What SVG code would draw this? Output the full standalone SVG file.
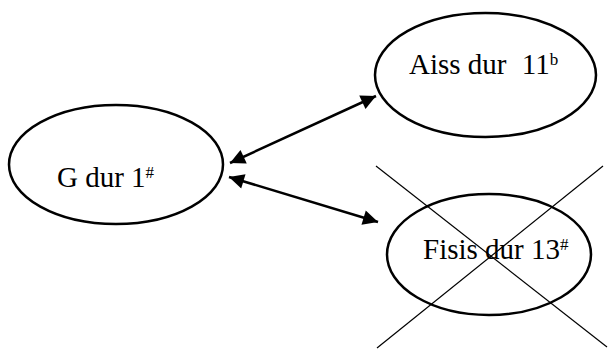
<svg xmlns="http://www.w3.org/2000/svg" width="609" height="349" viewBox="0 0 609 349">
<defs>
<style>
.node{fill:#fff;stroke:#000;stroke-width:2.5}
.lbl{font-family:'Liberation Serif',serif;font-size:29px;fill:#000}
.sup{font-size:17px}
.conn{stroke:#000;stroke-width:2.5;fill:none}
.cross{stroke:#000;stroke-width:1.2}
</style>
<marker id="ah" viewBox="0 0 10 10" refX="10" refY="5" markerWidth="7" markerHeight="6" markerUnits="strokeWidth" orient="auto-start-reverse">
<path d="M0,0 L10,5 L0,10 z" fill="#000"/>
</marker>
</defs>
<g id="node-g">
<ellipse class="node" cx="116" cy="164.5" rx="107" ry="59.5"/>
<text class="lbl" font-family="Liberation Serif, serif" x="57" y="187">G dur 1<tspan class="sup" dy="-9">#</tspan></text>
</g>
<g id="node-aiss">
<ellipse class="node" cx="485.5" cy="75" rx="110.5" ry="62"/>
<text class="lbl" font-family="Liberation Serif, serif" x="409" y="74">Aiss dur <tspan dx="8">11</tspan><tspan class="sup" dy="-9">b</tspan></text>
</g>
<g id="node-fisis">
<ellipse class="node" cx="489" cy="254.5" rx="102" ry="60.5"/>
<text class="lbl" font-family="Liberation Serif, serif" x="423" y="259">Fisis dur 13<tspan class="sup" dy="-9">#</tspan></text>
</g>
<g id="connectors">
<line class="conn" x1="230" y1="163" x2="376" y2="96" marker-start="url(#ah)" marker-end="url(#ah)"/>
<line class="conn" x1="229" y1="177" x2="378" y2="222" marker-start="url(#ah)" marker-end="url(#ah)"/>
</g>
<g id="cross">
<line class="cross" x1="376" y1="166" x2="607" y2="347"/>
<line class="cross" x1="603" y1="166" x2="377" y2="348"/>
</g>
</svg>
